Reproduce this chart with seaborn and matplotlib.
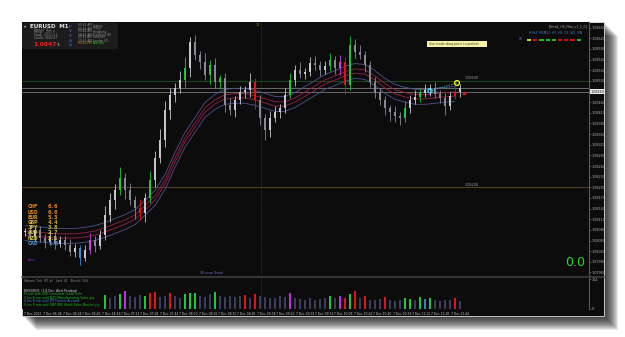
import numpy as np
import pandas as pd
import matplotlib
matplotlib.use("Agg")
import matplotlib.pyplot as plt
import seaborn as sns
from matplotlib.patches import Rectangle
from matplotlib.lines import Line2D

sns.set_style("dark")
plt.rcParams['font.family'] = ['DejaVu Sans']

# ---- data ----
closes = [
    1.08074, 1.08063, 1.08080, 1.08057, 1.08046, 1.08063, 1.08040, 1.08052,
    1.08038, 1.08018, 1.08029, 1.08001, 1.08023, 1.08052, 1.08035, 1.08066, 1.08122, 1.08164,
    1.08193, 1.08226, 1.08193, 1.08164, 1.08142, 1.08128, 1.08170, 1.08221, 1.08283, 1.08334,
    1.08418, 1.08461, 1.08480, 1.08503, 1.08537, 1.08610, 1.08573, 1.08554, 1.08517, 1.08545,
    1.08497, 1.08508, 1.08432, 1.08418, 1.08446, 1.08469, 1.08475, 1.08497, 1.08446, 1.08396,
    1.08362, 1.08396, 1.08413, 1.08424, 1.08461, 1.08503, 1.08531, 1.08520, 1.08525, 1.08551,
    1.08545, 1.08531, 1.08542, 1.08559, 1.08537, 1.08554, 1.08489, 1.08602, 1.08582, 1.08573,
    1.08545, 1.08497, 1.08469, 1.08446, 1.08424, 1.08413, 1.08401, 1.08396, 1.08424, 1.08446,
    1.08455, 1.08466, 1.08475, 1.08480, 1.08463, 1.08452, 1.08430, 1.08458, 1.08469, 1.08480,
]
# wick lengths above / below the body, in pips
wick_up = [
    1.0, 1.5, 0.8, 1.2, 1.0, 1.5, 0.8, 1.2, 1.0, 1.5,
    1.2, 0.8, 1.5, 2.0, 1.0, 1.5, 2.5, 2.0, 1.5, 3.0,
    1.5, 2.0, 1.2, 2.5, 1.5, 2.5, 2.0, 3.0, 2.5, 2.0,
    1.5, 2.5, 3.0, 1.5, 2.0, 1.2, 2.5, 1.5, 2.0, 1.0,
    1.5, 2.0, 1.2, 1.8, 1.0, 2.5, 1.2, 1.5, 1.0, 2.0,
    1.5, 1.2, 2.0, 1.8, 1.5, 2.2, 1.0, 1.5, 2.0, 1.2,
    1.5, 2.0, 1.0, 1.8, 1.2, 2.5, 1.5, 2.0, 1.2, 1.0,
    1.5, 1.0, 1.2, 0.8, 1.5, 1.0, 2.0, 1.5, 1.8, 1.2,
    1.5, 1.0, 1.8, 1.2, 1.5, 1.0, 1.8, 1.2,
]
wick_dn = [
    1.2, 0.8, 1.5, 1.0, 1.8, 1.0, 1.5, 0.8, 1.5, 1.2,
    1.5, 2.0, 1.0, 1.2, 1.8, 1.0, 1.5, 2.0, 2.5, 1.5,
    2.5, 1.5, 3.0, 2.0, 2.5, 1.5, 2.0, 1.5, 2.0, 2.5,
    2.0, 1.5, 2.0, 2.5, 1.5, 2.0, 1.5, 2.5, 1.8, 2.0,
    2.0, 1.5, 2.0, 1.2, 1.8, 2.0, 2.5, 2.0, 3.0, 2.0,
    1.2, 1.8, 1.5, 1.0, 1.8, 1.2, 1.5, 1.0, 1.5, 1.8,
    1.2, 1.5, 1.8, 2.0, 2.5, 1.5, 1.8, 1.2, 2.0, 1.5,
    1.8, 1.5, 2.0, 2.5, 1.8, 2.0, 1.2, 1.5, 1.0, 1.5,
    1.2, 1.8, 1.0, 1.5, 2.5, 1.2, 1.0, 1.5,
]
ma_bar = list(range(0, 88, 2))
ma_mid = [
    1.08071, 1.08068, 1.08066, 1.08063, 1.08063, 1.08063, 1.08066, 1.08071, 1.08080, 1.08091,
    1.08102, 1.08116, 1.08142, 1.08170, 1.08215, 1.08277, 1.08334, 1.08376, 1.08418, 1.08441,
    1.08455, 1.08458, 1.08458, 1.08452, 1.08444, 1.08435, 1.08435, 1.08446, 1.08463, 1.08480,
    1.08497, 1.08508, 1.08520, 1.08528, 1.08525, 1.08508, 1.08486, 1.08469, 1.08461, 1.08455,
    1.08455, 1.08458, 1.08461, 1.08463,
]
green_idx = [19, 25, 32, 37, 39, 53, 61, 65, 76, 79]
red_idx = [23, 46, 64, 86]
magenta_idx = [13, 63]
blue_idx = [11]

vol_first = 16
volume = [
    75, 60, 70, 80, 100, 72, 65, 78, 70, 90, 95, 66,
    72, 88, 70, 62, 84, 90, 86, 74, 68, 80, 92, 70,
    66, 72, 64, 70, 78, 62, 84, 70, 66, 58, 62, 70,
    64, 88, 60, 56, 52, 58, 50, 54, 62, 70, 58, 72,
    62, 84, 100, 60, 70, 52, 48, 56, 66, 50, 46, 52,
    60, 54, 48, 64, 56, 60, 50, 44, 48, 52, 58, 46,
]
vol_green = [16, 19, 24, 32, 33, 34, 38, 61, 65, 76, 77, 79, 81]
vol_red = [25, 26, 29, 44, 46, 64, 66, 68, 72, 86]
vol_magenta = [20, 53, 63]
vol_blue = [80]

price_labels = ["1.08650", "1.08620", "1.08590", "1.08560", "1.08530", "1.08500",
                "1.08470", "1.08440", "1.08410", "1.08380", "1.08350", "1.08320",
                "1.08290", "1.08260", "1.08230", "1.08200", "1.08170", "1.08140",
                "1.08110", "1.08080", "1.08050", "1.08020", "1.07990", "1.07960"]
time_labels = ["7 Dec 2023", "7 Dec 06:08", "7 Dec 06:24", "7 Dec 06:40", "7 Dec 06:56",
               "7 Dec 07:12", "7 Dec 07:28", "7 Dec 07:44", "7 Dec 08:00", "7 Dec 08:16",
               "7 Dec 08:32", "7 Dec 08:48", "7 Dec 09:04", "7 Dec 09:20", "7 Dec 09:36",
               "7 Dec 09:52", "7 Dec 10:08", "7 Dec 10:24", "7 Dec 10:40", "7 Dec 10:56",
               "7 Dec 11:12", "7 Dec 11:28", "7 Dec 11:44"]
current_price = 1.08469
level_green = 1.08500
level_orange = 1.08200
signal_bars = [81, 86.4]
signal_prices = [1.08472, 1.08494]

currencies = ["CHF", "USD", "EUR", "GBP", "JPY", "AUD", "NZD", "CAD"]
strength = ["6.6", "6.0", "5.3", "4.4", "3.8", "2.7", "2.1", "1.5"]
cur_colors = ["#e88a1c", "#e88a1c", "#e8961c", "#d8b030", "#d0c038", "#c8c848", "#c8c848", "#4aa0e0"]

sessions = ["Sydney", "Tokyo", "HongKong", "Frankfurt (B)", "Frankfurt", "London (O)", "NewYork"]
session_times = ["00:41 AM", "02:41 AM", "03:41 AM", "08:41 AM", "09:41 AM", "10:41 AM", "03:41 PM"]
box_colors = ["#d8d020", "#d01010", "#18c018", "#18c018", "#18c018", "#d01010", "#d01010", "#d01010", "#18c018"]

W, H = 625, 337
PIP = 0.0001


def fx(x):
    return x / W


def fy(y):
    return 1 - y / H


fig = plt.figure(figsize=(W / 100, H / 100), dpi=100)
fig.patch.set_facecolor("white")

# drop shadow + black frame
for d in range(1, 15):
    fig.patches.append(Rectangle((fx(22 + d), fy(316 + d)), 582 / W, 294 / H,
                                 transform=fig.transFigure, color="black", alpha=0.09, lw=0, zorder=0))
fig.patches.append(Rectangle((fx(22), fy(316)), 582 / W, 294 / H, transform=fig.transFigure,
                             facecolor="#0c0c0c", edgecolor="#e0e0e0", lw=0.6, zorder=1))

# ---- price panel ----
ax = fig.add_axes([fx(22), fy(276), 567 / W, 254 / H])
ax.set_zorder(5)
ax.set_facecolor("#0c0c0c")
ax.set_xlim(-0.6, 112.8)
ax.set_ylim(1.07950, 1.08666)

idx = np.arange(len(closes))
opens = np.array([closes[0]] + closes[:-1])
cl = np.array(closes)
highs = np.maximum(opens, cl) + np.array(wick_up) * PIP
lows = np.minimum(opens, cl) - np.array(wick_dn) * PIP
colors = np.where(cl >= opens, "#c6c6ce", "#8a8a96").astype(object)
for lst, c in [(green_idx, "#1ec83a"), (red_idx, "#e01414"), (magenta_idx, "#d040e0"), (blue_idx, "#3a8ad8")]:
    for i in lst:
        colors[i] = c
body = cl - opens
body = np.where(np.abs(body) < 0.00002, 0.00002, body)
ax.vlines(idx, lows, highs, colors=list(colors), lw=0.6, zorder=3)
ax.bar(idx, body, bottom=opens, width=0.5, color=list(colors), lw=0, zorder=3)

ma_df = pd.DataFrame({"bar": ma_bar, "mid": ma_mid})
for off, col in [(0.00021, "#4e5290"), (-0.00021, "#4e5290"), (0.00006, "#9c1f4a"), (-0.00006, "#9c1f4a")]:
    sns.lineplot(x=ma_df["bar"], y=ma_df["mid"] + off, ax=ax, color=col, lw=0.6, legend=False, zorder=2)

ax.axhline(level_green, color="#1d561d", lw=0.6, zorder=1)
ax.axhline(level_orange, color="#6b4a1c", lw=0.6, zorder=1)
ax.axhline(current_price + 0.00011, color="#6a6a6a", lw=0.7, zorder=1)
ax.axhline(current_price, color="#6a6a6a", lw=0.7, zorder=1)
ax.axvline(47.2, color="#505050", ls=(0, (1, 1.5)), lw=0.5, zorder=1)
ax.text(88, level_green + 0.00002, "1.08500", fontsize=2.4, color="#a0a0a0", va="bottom")
ax.text(88, level_orange + 0.00002, "1.08200", fontsize=2.4, color="#a0a0a0", va="bottom")

ax.plot(signal_bars, signal_prices, color="#38c8e0", ls=(0, (2, 1.5)), lw=0.5, zorder=4)
ax.scatter(signal_bars[:1], signal_prices[:1], s=9, facecolor="none", edgecolor="#40d8f0", lw=0.9, zorder=5)
ax.scatter(signal_bars[1:], signal_prices[1:], s=12, facecolor="none", edgecolor="#f0f020", lw=1.0, zorder=5)
ax.scatter([87.8], [current_price - 0.00003], s=3, marker="s", color="#e01414", zorder=5)

ax.set_xticks([])
ax.yaxis.tick_right()
ax.set_yticks([float(p) for p in price_labels])
ax.set_yticklabels(price_labels, fontsize=2.4, color="#b4b4b4")
ax.tick_params(axis="y", length=1.2, width=0.4, color="#808080", pad=1)
for s in ["top", "left", "bottom"]:
    ax.spines[s].set_visible(False)
ax.spines["right"].set_color("#5a5a5a")
ax.spines["right"].set_linewidth(0.8)
ax.grid(False)
ax.set_xlabel("")
ax.set_ylabel("")
ax.text(1.003, (current_price - 1.07950) / (1.08666 - 1.07950), "1.08469", transform=ax.transAxes,
        fontsize=2.4, color="#111111", va="center", ha="left",
        bbox=dict(boxstyle="square,pad=0.15", fc="#e8e8e8", ec="none"), zorder=8, clip_on=False)

# ---- volume panel ----
ax2 = fig.add_axes([fx(22), fy(309), 567 / W, 31 / H])
ax2.set_zorder(5)
ax2.set_facecolor("#0c0c0c")
ax2.set_xlim(-0.6, 112.8)
ax2.set_ylim(0, 170)
vidx = np.arange(vol_first, vol_first + len(volume))
vcol = np.array(["#3c3c5c"] * len(volume), dtype=object)
for lst, c in [(vol_green, "#1ec83a"), (vol_red, "#e01414"), (vol_magenta, "#c030e0"), (vol_blue, "#3a7ad0")]:
    for i in lst:
        vcol[i - vol_first] = c
ax2.bar(vidx, volume, width=0.5, color=list(vcol), lw=0)
ax2.axvline(47.2, color="#505050", ls=(0, (1, 1.5)), lw=0.5)
time_pos = [-0.2 + 3.88 * k for k in range(len(time_labels))]
ax2.set_xticks(time_pos)
ax2.set_xticklabels(time_labels, fontsize=2.2, color="#c8c8c8", ha="left")
ax2.tick_params(axis="x", length=1.2, width=0.4, color="#808080", pad=0.8)
ax2.yaxis.tick_right()
ax2.set_yticks([0, 164])
ax2.set_yticklabels(["0", "164"], fontsize=2.4, color="#b4b4b4")
ax2.tick_params(axis="y", length=1.2, width=0.4, color="#808080", pad=1)
for s in ["top", "left", "bottom"]:
    ax2.spines[s].set_visible(False)
ax2.spines["right"].set_color("#5a5a5a")
ax2.spines["right"].set_linewidth(0.8)
ax2.grid(False)

# separator between panels
fig.add_artist(Line2D([fx(22), fx(604)], [fy(277), fy(277)], color="#3c3c3c", lw=1.3, zorder=9))

# ---- overlay texts ----
T = dict(zorder=10)
fig.patches.append(Rectangle((fx(22), fy(49)), 96 / W, 26 / H, transform=fig.transFigure,
                             facecolor="#1c1c1c", lw=0, zorder=9))
fig.text(fx(24), fy(26), "▾", fontsize=3, color="#d0d0d0", va="center", **T)
fig.text(fx(30), fy(26), "EURUSD  M1", fontsize=4, color="#e8e8e8", weight="bold", va="center", **T)
for k, s in enumerate(["Spread   0.3", "Range    10.5 P", "Swap  -10.2/+2.1", "Candle  00:00:47"]):
    fig.text(fx(34), fy(29.5 + 2.9 * k), s, fontsize=2.0, color="#909090", va="center", **T)
fig.text(fx(33), fy(44.5), "1.0847", fontsize=4.3, color="#e82020", weight="bold", va="center", **T)
fig.text(fx(57), fy(45), "3", fontsize=3.0, color="#e0e0e0", va="center", **T)
for k, s in enumerate(["P", "V", "S", "A", "A"]):
    fig.text(fx(69), fy(27 + 4.5 * k), s, fontsize=2.8, color="#3a48b8", weight="bold", va="center", **T)
for k in range(len(sessions)):
    tc = "#e08a1c" if k == len(sessions) - 1 else "#909090"
    nc = "#20d020" if k == len(sessions) - 1 else "#909090"
    fig.text(fx(78), fy(25.5 + 3 * k), session_times[k], fontsize=2.1, color=tc, va="center", **T)
    fig.text(fx(93), fy(25.5 + 3 * k), sessions[k], fontsize=2.1, color=nc, va="center", **T)

fig.text(fx(258), fy(25), "11", fontsize=2.4, color="#8a8a30", ha="center", va="center", **T)
fig.text(fx(588), fy(26), "[Break_H4_Fibo_v1_1_0]", fontsize=2.3, color="#a8a8a8", ha="right", va="center", **T)
fig.text(fx(582), fy(33), "H1H4  M5M15  H1  H4  D1  W1  MN", fontsize=2.2, color="#4a7ad0", ha="right", va="center", **T)
fig.text(fx(519), fy(39.5), "Oil", fontsize=2.2, color="#4a7ad0", va="center", **T)
for k, c in enumerate(box_colors):
    fig.patches.append(Rectangle((fx(527 + 6.2 * k), fy(40.5)), 4.2 / W, 2 / H,
                                 transform=fig.transFigure, color=c, lw=0, zorder=10))
fig.patches.append(Rectangle((fx(427), fy(46.5)), 60 / W, 6 / H, transform=fig.transFigure,
                             facecolor="#f4f0a8", lw=0, zorder=10))
fig.text(fx(429), fy(43.5), "Use trade drag pos'n to protect", fontsize=2.3, color="#404020", va="center", **T)

for k in range(len(currencies)):
    fig.text(fx(28), fy(207 + 5.2 * k), currencies[k], fontsize=4.2, family="DejaVu Sans Mono",
             weight="bold", color=cur_colors[k], va="center", **T)
    fig.text(fx(48), fy(207 + 5.2 * k), strength[k], fontsize=4.2, family="DejaVu Sans Mono",
             weight="bold", color=cur_colors[k], va="center", **T)
fig.text(fx(28), fy(260), "Base", fontsize=2.3, color="#8030c0", va="center", **T)
fig.text(fx(200), fy(272.5), "30 ema Trend", fontsize=2.4, color="#6a6ad0", va="center", **T)
fig.text(fx(575), fy(263), "0.0", fontsize=9, color="#22dd22", ha="center", va="center", **T)

fig.text(fx(24), fy(281), "Volume Tick  (P1 b)   Last: 41   Bench: 164", fontsize=2.2, color="#909090", va="center", **T)
news = [("RSS3/DOS  (1.8 Dec, Alert Pending)", "#d8d8d8"),
        ("Pl-min with USD Consumer Credit m/m", "#20c020"),
        ("3 hrs 6 min until NZD Manufacturing Sales q/q", "#20c020"),
        ("4 hrs 9 min until JPY Current Account", "#3a8ae0"),
        ("5 hrs 9 min until GBP BRC Retail Sales Monitor y/y", "#20c020")]
for k, (s, c) in enumerate(news):
    fig.text(fx(24), fy(291 + 3.4 * k), s, fontsize=2.2, color=c, va="center", **T)

fig.savefig("out.png", dpi=100, facecolor="white")
